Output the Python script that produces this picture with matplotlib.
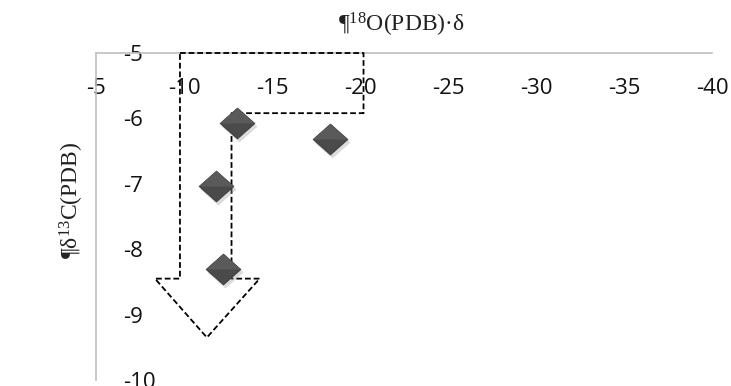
import matplotlib
matplotlib.use("Agg")
import matplotlib.pyplot as plt
from matplotlib.path import Path
from matplotlib import transforms

# ---- data ----
d18O = [-13.0, -18.3, -11.8, -12.2]
d13C = [-6.07, -6.31, -7.03, -8.31]
x_ticks = [-5, -10, -15, -20, -25, -30, -35, -40]
y_ticks = [-5, -6, -7, -8, -9, -10]
# dashed arrow outline (data coordinates)
arrow_x = [-9.77, -20.2, -20.2, -12.7, -12.7, -14.3, -11.3, -8.35, -9.77, -9.77]
arrow_y = [-5.0, -5.0, -5.92, -5.92, -8.45, -8.45, -9.35, -8.45, -8.45, -5.0]

title_txt = r"¶$^{18}$O(PDB)·δ"
ylabel_txt = r"¶δ$^{13}$C(PDB)"

plt.rcParams['mathtext.fontset'] = 'custom'
plt.rcParams['mathtext.rm'] = 'Liberation Serif'
plt.rcParams['mathtext.it'] = 'Liberation Serif'

fig = plt.figure(figsize=(7.31, 3.86), dpi=100)
ax = fig.add_axes([96/731, 1-380/386, (712-96)/731, (380-53)/386])

ax.set_xlim(-5, -40)
ax.set_ylim(-10, -5)

for s in ['bottom', 'right']:
    ax.spines[s].set_visible(False)
for s in ['top', 'left']:
    ax.spines[s].set_color('#bfbfbf')
    ax.spines[s].set_linewidth(1.2)

ax.set_xticks(x_ticks)
ax.set_yticks(y_ticks)
ax.set_xticklabels([str(v) for v in x_ticks])
ax.set_yticklabels([str(v) for v in y_ticks])
ax.xaxis.set_ticks_position('top')
ax.tick_params(axis='x', top=True, bottom=False, labeltop=True, labelbottom=False,
               length=0, pad=-18, labelsize=16, labelcolor='#111111')
ax.tick_params(axis='y', left=True, length=0, pad=-19.5, labelsize=16, labelcolor='#111111')
for lab in ax.get_xticklabels():
    lab.set_verticalalignment('top')
    lab.set_fontfamily('Open Sans')
for lab in ax.get_yticklabels():
    lab.set_horizontalalignment('left')
    lab.set_fontfamily('Open Sans')

# dashed arrow
ax.plot(arrow_x, arrow_y, color='black', lw=1.3, linestyle=(0, (3.2, 1.6)),
        clip_on=False, zorder=3)

# diamond marker (wider than tall)
diamond = Path([(-1, 0), (0, 0.886), (1, 0), (0, -0.886), (-1, 0)],
               [Path.MOVETO, Path.LINETO, Path.LINETO, Path.LINETO, Path.CLOSEPOLY])
top_half = Path([(-1, 0), (0, 0.886), (1, 0), (-1, 0)],
                [Path.MOVETO, Path.LINETO, Path.LINETO, Path.CLOSEPOLY])

shadow_tr = ax.transData + transforms.ScaledTranslation(2/100, -3/100, fig.dpi_scale_trans)
ax.plot(d18O, d13C, linestyle='none', marker=diamond, markersize=26,
        markerfacecolor='#9a9a9a', markeredgecolor='none', alpha=0.35,
        transform=shadow_tr, zorder=4)
ax.plot(d18O, d13C, linestyle='none', marker=diamond, markersize=25,
        markerfacecolor='#4a4a4a', markeredgecolor='#3a3a3a', markeredgewidth=0.6,
        zorder=5)
ax.plot(d18O, d13C, linestyle='none', marker=top_half, markersize=25,
        markerfacecolor='#5a5a5a', markeredgecolor='none', zorder=6)

# titles
fig.text(401/731, 1-25/386, title_txt, ha='center', va='center',
         fontsize=17, family='Liberation Serif', color='#222222')
ax.set_ylabel(ylabel_txt, fontsize=17, family='Liberation Serif', color='#222222')
ax.yaxis.set_label_coords((86-96)/616, 1-(200-53)/327)

fig.savefig('out.png', dpi=100)
